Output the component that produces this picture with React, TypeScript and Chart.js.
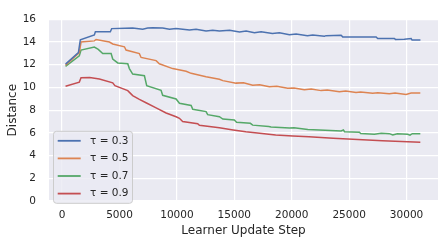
import React, { useEffect, useRef } from "react";
import { Chart, registerables } from "chart.js";

Chart.register(...registerables);

const seriesLabels = ["τ = 0.3", "τ = 0.5", "τ = 0.7", "τ = 0.9"];
const seriesColors = ["#4C72B0", "#DD8452", "#55A868", "#C44E52"];

const xTicks = [0, 5000, 10000, 15000, 20000, 25000, 30000];
const yTicks = [0, 2, 4, 6, 8, 10, 12, 14, 16];

const tau03Steps = [300, 1420, 1590, 2810, 2900, 4200, 4320, 5500, 6150, 7020, 7460, 7890, 8760, 9350, 9930, 11090, 11670, 12540, 13120, 13700, 14590, 15450, 16030, 16750, 17330, 18320, 18930, 19800, 20380, 21370, 21830, 22850, 22990, 24300, 24440, 27350, 27490, 28940, 29030, 29810, 30400, 30480, 31210];
const tau03Dist = [12.05, 13.07, 14.2, 14.62, 14.9, 14.9, 15.18, 15.22, 15.24, 15.13, 15.24, 15.26, 15.24, 15.13, 15.2, 15.05, 15.13, 14.98, 15.04, 14.96, 15.04, 14.88, 14.96, 14.82, 14.9, 14.76, 14.82, 14.65, 14.7, 14.56, 14.62, 14.51, 14.56, 14.59, 14.45, 14.45, 14.31, 14.31, 14.23, 14.25, 14.31, 14.17, 14.17];

const tau05Steps = [300, 1500, 1650, 2810, 2960, 4120, 4410, 5430, 5570, 6730, 6880, 8190, 8470, 9630, 10800, 11240, 12540, 13700, 14000, 15150, 15800, 16600, 17200, 18050, 18700, 19650, 20200, 21100, 21700, 22560, 23100, 24150, 24700, 25600, 26000, 27050, 27500, 28500, 29000, 29960, 30400, 31200];
const tau05Dist = [11.95, 13.07, 14.0, 14.1, 14.22, 14.0, 13.83, 13.58, 13.29, 12.98, 12.64, 12.36, 12.08, 11.66, 11.43, 11.24, 10.95, 10.72, 10.6, 10.38, 10.42, 10.2, 10.24, 10.06, 10.1, 9.92, 9.96, 9.8, 9.86, 9.72, 9.78, 9.63, 9.68, 9.55, 9.6, 9.48, 9.54, 9.45, 9.5, 9.38, 9.5, 9.5];

const tau07Steps = [300, 1500, 1650, 2810, 3150, 3540, 4270, 4410, 4850, 5720, 5860, 6150, 7170, 7370, 8620, 8760, 9930, 10220, 11240, 11380, 12540, 12680, 13700, 14000, 15000, 15200, 16400, 16600, 18000, 18200, 19800, 20200, 21400, 22900, 24300, 24500, 24600, 25900, 26000, 27200, 27800, 28500, 28800, 29200, 30100, 30300, 30500, 31200];
const tau07Dist = [11.85, 12.79, 13.29, 13.55, 13.35, 12.98, 12.98, 12.5, 12.16, 12.08, 11.66, 11.18, 11.03, 10.16, 9.74, 9.31, 8.98, 8.61, 8.41, 8.07, 7.87, 7.6, 7.42, 7.22, 7.14, 6.94, 6.84, 6.68, 6.55, 6.52, 6.42, 6.45, 6.3, 6.24, 6.16, 6.25, 6.1, 6.05, 5.95, 5.88, 5.97, 5.93, 5.82, 5.93, 5.88, 5.8, 5.93, 5.93];

const tau09Steps = [300, 1500, 1650, 2400, 3250, 4410, 4600, 5720, 6150, 6730, 7310, 8190, 9060, 9930, 10220, 10500, 11810, 11960, 13700, 14900, 16000, 17200, 18600, 20100, 21500, 23600, 27900, 31200];
const tau09Dist = [10.1, 10.47, 10.85, 10.87, 10.75, 10.4, 10.15, 9.72, 9.28, 8.95, 8.65, 8.2, 7.75, 7.42, 7.28, 7.0, 6.8, 6.66, 6.44, 6.26, 6.1, 5.96, 5.81, 5.73, 5.65, 5.53, 5.31, 5.17];

const allSteps = [tau03Steps, tau05Steps, tau07Steps, tau09Steps];
const allDist = [tau03Dist, tau05Dist, tau07Dist, tau09Dist];

const FONT = "'DejaVu Sans', sans-serif";
const TEXT = "#262626";

const bgPlugin = {
  id: "bgPlugin",
  beforeDraw(chart: any) {
    const { ctx, chartArea: a } = chart;
    ctx.save();
    ctx.fillStyle = "#EAEAF2";
    ctx.fillRect(a.left, a.top, a.right - a.left, a.bottom - a.top);
    ctx.restore();
  },
};

const legendPlugin = {
  id: "legendPlugin",
  afterDraw(chart: any) {
    const { ctx, chartArea: a } = chart;
    const x0 = a.left + 4.5;
    const y0 = a.top + 112;
    const w = 79;
    const h = 72;
    ctx.save();
    ctx.beginPath();
    const r = 3;
    ctx.moveTo(x0 + r, y0);
    ctx.arcTo(x0 + w, y0, x0 + w, y0 + h, r);
    ctx.arcTo(x0 + w, y0 + h, x0, y0 + h, r);
    ctx.arcTo(x0, y0 + h, x0, y0, r);
    ctx.arcTo(x0, y0, x0 + w, y0, r);
    ctx.closePath();
    ctx.fillStyle = "rgba(234,234,242,0.8)";
    ctx.fill();
    ctx.strokeStyle = "#CCCCCC";
    ctx.lineWidth = 1;
    ctx.stroke();
    ctx.font = `10.5px ${FONT}`;
    ctx.textBaseline = "middle";
    ctx.textAlign = "left";
    seriesLabels.forEach((lbl, i) => {
      const y = y0 + 9.5 + i * 17.6;
      ctx.strokeStyle = seriesColors[i];
      ctx.lineWidth = 1.8;
      ctx.beginPath();
      ctx.moveTo(a.left + 8.7, y);
      ctx.lineTo(a.left + 31.7, y);
      ctx.stroke();
      ctx.fillStyle = TEXT;
      ctx.fillText(lbl, a.left + 41, y);
    });
    ctx.restore();
  },
};

export default function App() {
  const ref = useRef<HTMLCanvasElement | null>(null);
  useEffect(() => {
    if (!ref.current) return;
    const datasets = seriesLabels.map((label, i) => ({
      label,
      data: allSteps[i].map((s, j) => ({ x: s, y: allDist[i][j] })),
      borderColor: seriesColors[i],
      backgroundColor: seriesColors[i],
      borderWidth: 1.5,
      pointRadius: 0,
      tension: 0,
      fill: false,
    }));
    const chart = new Chart(ref.current, {
      type: "line",
      data: { datasets },
      plugins: [bgPlugin, legendPlugin],
      options: {
        animation: false,
        responsive: false,
        devicePixelRatio: 1,
        layout: { padding: { top: 12, right: 7, left: 0, bottom: 0 } },
        plugins: { legend: { display: false }, tooltip: { enabled: false } },
        scales: {
          x: {
            type: "linear",
            min: -1140,
            max: 32740,
            afterBuildTicks: (s: any) => {
              s.ticks = xTicks.map((v) => ({ value: v }));
            },
            afterFit: (s: any) => {
              s.height = 44;
            },
            grid: { color: "#FFFFFF", lineWidth: 1.2, drawTicks: false },
            border: { display: false },
            ticks: {
              font: { family: FONT, size: 10.5 },
              color: TEXT,
              padding: 8,
              maxRotation: 0,
              autoSkip: false,
              callback: (v: any) => String(v),
            },
            title: {
              display: true,
              text: "Learner Update Step",
              font: { family: FONT, size: 12 },
              color: TEXT,
              padding: { top: 0, bottom: 7 },
            },
          },
          y: {
            type: "linear",
            min: 0,
            max: 16,
            afterBuildTicks: (s: any) => {
              s.ticks = yTicks.map((v) => ({ value: v }));
            },
            afterFit: (s: any) => {
              s.width = 49;
            },
            grid: { color: "#FFFFFF", lineWidth: 1.2, drawTicks: false },
            border: { display: false },
            ticks: {
              font: { family: FONT, size: 10.5 },
              color: TEXT,
              padding: 13,
              callback: (v: any) => String(v),
            },
            title: {
              display: true,
              text: "Distance",
              font: { family: FONT, size: 12 },
              color: TEXT,
              padding: { top: 5.5, bottom: 0 },
            },
          },
        },
      },
    });
    return () => chart.destroy();
  }, []);
  return (
    <div style={{ position: "fixed", left: 0, top: 0, width: 445, height: 245, background: "#FFFFFF" }}>
      <canvas ref={ref} width={445} height={245} style={{ width: 445, height: 245, display: "block" }} />
    </div>
  );
}
